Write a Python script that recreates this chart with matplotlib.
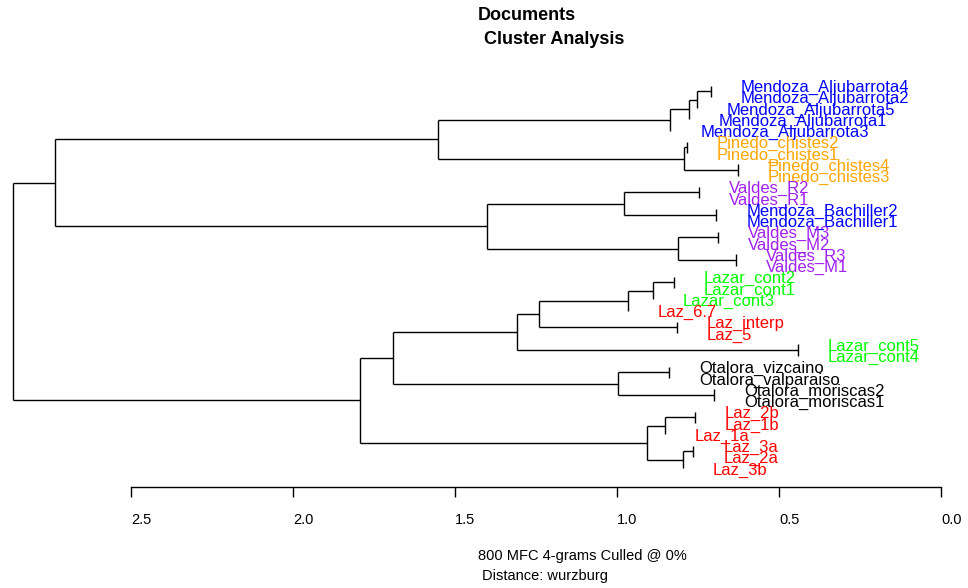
import numpy as np
import matplotlib.pyplot as plt
from matplotlib.transforms import offset_copy

# leaves, top to bottom
labels = ['Mendoza_Aljubarrota4', 'Mendoza_Aljubarrota2', 'Mendoza_Aljubarrota5',
          'Mendoza_Aljubarrota1', 'Mendoza_Aljubarrota3',
          'Pinedo_chistes2', 'Pinedo_chistes1', 'Pinedo_chistes4', 'Pinedo_chistes3',
          'Valdes_R2', 'Valdes_R1', 'Mendoza_Bachiller2', 'Mendoza_Bachiller1',
          'Valdes_M3', 'Valdes_M2', 'Valdes_R3', 'Valdes_M1',
          'Lazar_cont2', 'Lazar_cont1', 'Lazar_cont3', 'Laz_6.7', 'Laz_interp', 'Laz_5',
          'Lazar_cont5', 'Lazar_cont4',
          'Otalora_vizcaino', 'Otalora_valparaiso', 'Otalora_moriscas2', 'Otalora_moriscas1',
          'Laz_2b', 'Laz_1b', 'Laz_1a', 'Laz_3a', 'Laz_2a', 'Laz_3b']

group_colours = {'Mendoza': '#0000FF', 'Pinedo': '#FFA500', 'Valdes': '#A020F0',
                 'Lazar': '#00FF00', 'Laz': '#FF0000', 'Otalora': '#000000'}

# merges (negative = leaf number, positive = earlier merge row), top child first
merge = [(-1, -2), (1, -3), (2, -4), (3, -5),
         (-6, -7), (-8, -9), (5, 6), (4, 7),
         (-10, -11), (-12, -13), (9, 10), (-14, -15), (-16, -17), (12, 13), (11, 14),
         (8, 15),
         (-18, -19), (17, -20), (18, -21), (-22, -23), (19, 20), (-24, -25), (21, 22),
         (-26, -27), (-28, -29), (24, 25), (23, 26),
         (-30, -31), (28, -32), (-33, -34), (30, -35), (29, 31), (27, 32),
         (16, 33)]
heights = [0.710, 0.753, 0.778, 0.836,
           0.784, 0.627, 0.793, 1.552,
           0.747, 0.694, 0.978, 0.688, 0.633, 0.812, 1.401,
           2.735,
           0.824, 0.889, 0.966, 0.815, 1.241, 0.441, 1.309,
           0.840, 0.701, 0.997, 1.691,
           0.759, 0.852, 0.765, 0.796, 0.907, 1.793,
           2.864]

ticks = [2.5, 2.0, 1.5, 1.0, 0.5, 0.0]

plt.rcParams['font.family'] = ['Liberation Sans', 'DejaVu Sans']

fig = plt.figure(figsize=(9.68, 5.88), dpi=100)
ax = fig.add_axes([0, 0, 1, 1])

node_y = {}
leaf_x = [0.0] * len(labels)

for k, (a, b) in enumerate(merge, start=1):
    h = heights[k - 1]
    pts = []
    for c in (a, b):
        if c < 0:
            leaf_x[-c - 1] = h
            pts.append((h, -c - 1))
        else:
            pts.append((heights[c - 1], node_y[c]))
    (xa, ya), (xb, yb) = pts
    ax.plot([h, h], [ya, yb], color='black', lw=1.0, solid_capstyle='butt')
    ax.plot([h, xa], [ya, ya], color='black', lw=1.0, solid_capstyle='butt')
    ax.plot([h, xb], [yb, yb], color='black', lw=1.0, solid_capstyle='butt')
    node_y[k] = (ya + yb) / 2

lab_tr = offset_copy(ax.transData, fig=fig, x=30, y=-2, units='dots')
for i, name in enumerate(labels):
    col = group_colours[name.split('_')[0]]
    ax.text(leaf_x[i], i, name, color=col, fontsize=12, ha='left', va='center',
            transform=lab_tr)

# scale: 324 px per unit, 0 at x=941; 11.25 px per leaf, first leaf at y=85.5
ax.set_xlim(2.5 + 131 / 324, -27 / 324)
ax.set_ylim((588 - 85.5) / 11.25, -85.5 / 11.25)

for s in ['top', 'left', 'right']:
    ax.spines[s].set_visible(False)
ax.spines['bottom'].set_position(('data', (487 - 85.5) / 11.25))
ax.spines['bottom'].set_bounds(0, 2.5)
ax.spines['bottom'].set_linewidth(1.0)
ax.set_yticks([])
ax.set_xticks(ticks)
ax.set_xticklabels(['%.1f' % t for t in ticks], fontsize=10.5, ha='left')
ax.tick_params(axis='x', direction='out', length=7, width=1.0, pad=12)

fig.text(478 / 968, 1 - 16 / 588, 'Documents', fontsize=13, fontweight='bold',
         ha='left', va='center')
fig.text(484 / 968, 1 - 40 / 588, 'Cluster Analysis', fontsize=13, fontweight='bold',
         ha='left', va='center')
fig.text(478 / 968, 1 - 556 / 588, '800 MFC 4-grams Culled @ 0%', fontsize=10.5,
         ha='left', va='center')
fig.text(482 / 968, 1 - 576 / 588, 'Distance: wurzburg', fontsize=10.5,
         ha='left', va='center')

fig.savefig('out.png', dpi=100)
